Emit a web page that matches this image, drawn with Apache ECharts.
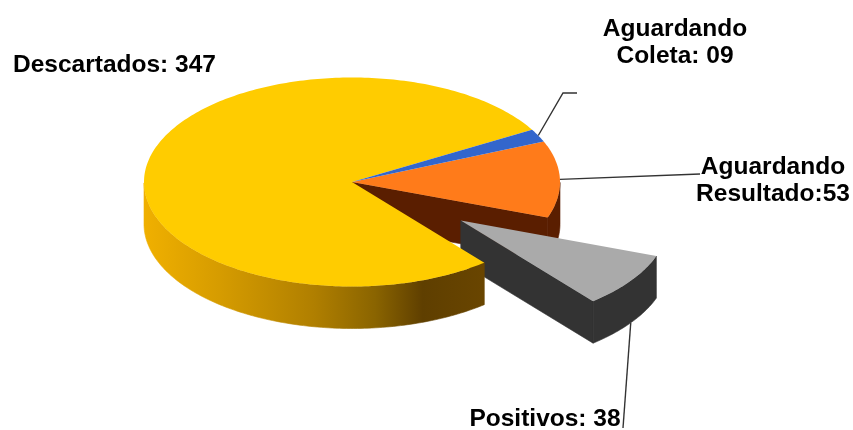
<!DOCTYPE html>
<html>
<head>
<meta charset="utf-8">
<style>
  html, body { margin: 0; padding: 0; background: #fff; }
  #chart { width: 853px; height: 430px; }
</style>
<script src="https://cdn.jsdelivr.net/npm/echarts@6/dist/echarts.min.js"></script>
</head>
<body>
<div id="chart"></div>
<script>
// valores, na ordem em que as fatias giram
const categories = ['Descartados', 'Aguardando Coleta', 'Aguardando Resultado', 'Positivos']
const values = [347, 9, 53, 38]
const labels = ['Descartados: 347', 'Aguardando\nColeta: 09', 'Aguardando\nResultado:53', 'Positivos: 38']
const topColors = ['#ffcc00', '#3366cc', '#ff7b1a', '#aaaaaa']
const sideColors = ['#c89000', '#1c3a75', '#5a1e00', '#333333']
const explode = [0, 0, 0, 0.64]
// a fatia amarela cobre a lateral da cinza, por isso a ordem de pintura
const paintOrder = [2, 3, 0, 1]

const pie = { cx: 352, cy: 182, rx: 208, ry: 104.5, depth: 42, start: -50.5 }
const labelBoxes = [
  { x: 13, y: 65, align: 'left' },
  { x: 675, y: 43, align: 'center' },
  { x: 773, y: 181, align: 'center' },
  { x: 545, y: 419, align: 'center' },
]
const leaders = [
  null,
  { part: 'top', rest: [[563, 93], [577, 93]] },
  { part: 'top', rest: [[700, 174]] },
  { part: 'bottom', rest: [[623, 428]] },
]

const total = values.reduce((sum, v) => sum + v, 0)
const slices = []
let cursor = pie.start

values.forEach((v, i) => {
  const from = cursor
  const to = from - v / total * 360
  const mid = (from + to) / 2 * Math.PI / 180
  slices.push({
    from,
    to,
    mid: (from + to) / 2,
    ox: explode[i] * pie.rx * Math.cos(mid),
    oy: -explode[i] * pie.ry * Math.sin(mid),
  })
  cursor = to
})

function point (s, deg, drop) {
  const a = deg * Math.PI / 180
  return [
    pie.cx + s.ox + pie.rx * Math.cos(a),
    pie.cy + s.oy - pie.ry * Math.sin(a) + drop,
  ]
}

function arc (s) {
  const list = []
  for (let d = s.from; d > s.to; d -= 1) list.push(d)
  list.push(s.to)
  return list
}

function sideFill (i) {
  if (i !== 0) return sideColors[i]
  return new echarts.graphic.LinearGradient(144, 0, 484, 0, [
    { offset: 0, color: '#f0b000' },
    { offset: 0.22, color: '#d69c00' },
    { offset: 0.5, color: '#b07f00' },
    { offset: 0.68, color: '#8a6400' },
    { offset: 0.82, color: '#5f3f00' },
    { offset: 1, color: '#694500' },
  ], true)
}

function renderItem (params) {
  const i = paintOrder[params.dataIndex]
  const s = slices[i]
  const degs = arc(s)
  const apex = [pie.cx + s.ox, pie.cy + s.oy]
  const children = []

  // face de corte primeiro, a lateral por cima fecha a emenda
  if (Math.sin(s.to * Math.PI / 180) < 0) {
    const edge = point(s, s.to, 0)
    children.push({
      type: 'polygon',
      shape: {
        points: [apex, edge, [edge[0], edge[1] + pie.depth], [apex[0], apex[1] + pie.depth]],
      },
      style: { fill: sideColors[i], stroke: sideColors[i], lineWidth: 0.6 },
    })
  }

  // lateral visivel: so a metade de baixo da elipse
  const lower = degs.filter(d => Math.sin(d * Math.PI / 180) <= 0)
  if (lower.length > 1) {
    const upper = lower.map(d => point(s, d, 0))
    const under = lower.map(d => point(s, d, pie.depth)).reverse()
    children.push({
      type: 'polygon',
      shape: { points: upper.concat(under) },
      style: { fill: sideFill(i), stroke: sideFill(i), lineWidth: 0.6 },
    })
  }

  children.push({
    type: 'polygon',
    shape: { points: [apex].concat(degs.map(d => point(s, d, 0))) },
    style: { fill: topColors[i] },
  })

  if (leaders[i]) {
    const first = point(s, s.mid, leaders[i].part === 'bottom' ? pie.depth : 0)
    children.push({
      type: 'polyline',
      shape: { points: [first].concat(leaders[i].rest) },
      style: { fill: 'none', stroke: '#333333', lineWidth: 1.4 },
    })
  }

  children.push({
    type: 'text',
    style: {
      text: labels[i],
      x: labelBoxes[i].x,
      y: labelBoxes[i].y,
      align: labelBoxes[i].align,
      verticalAlign: 'middle',
      fill: '#000000',
      font: 'bold 24.5px "Liberation Sans", Arial, sans-serif',
      lineHeight: 27,
    },
  })

  return { type: 'group', children }
}

const chart = echarts.init(document.getElementById('chart'), null, { renderer: 'canvas' })

chart.setOption({
  animation: false,
  backgroundColor: '#ffffff',
  series: [{
    type: 'custom',
    coordinateSystem: 'none',
    silent: true,
    renderItem,
    data: paintOrder.map(i => ({ name: categories[i], value: values[i] })),
  }],
})
</script>
</body>
</html>
